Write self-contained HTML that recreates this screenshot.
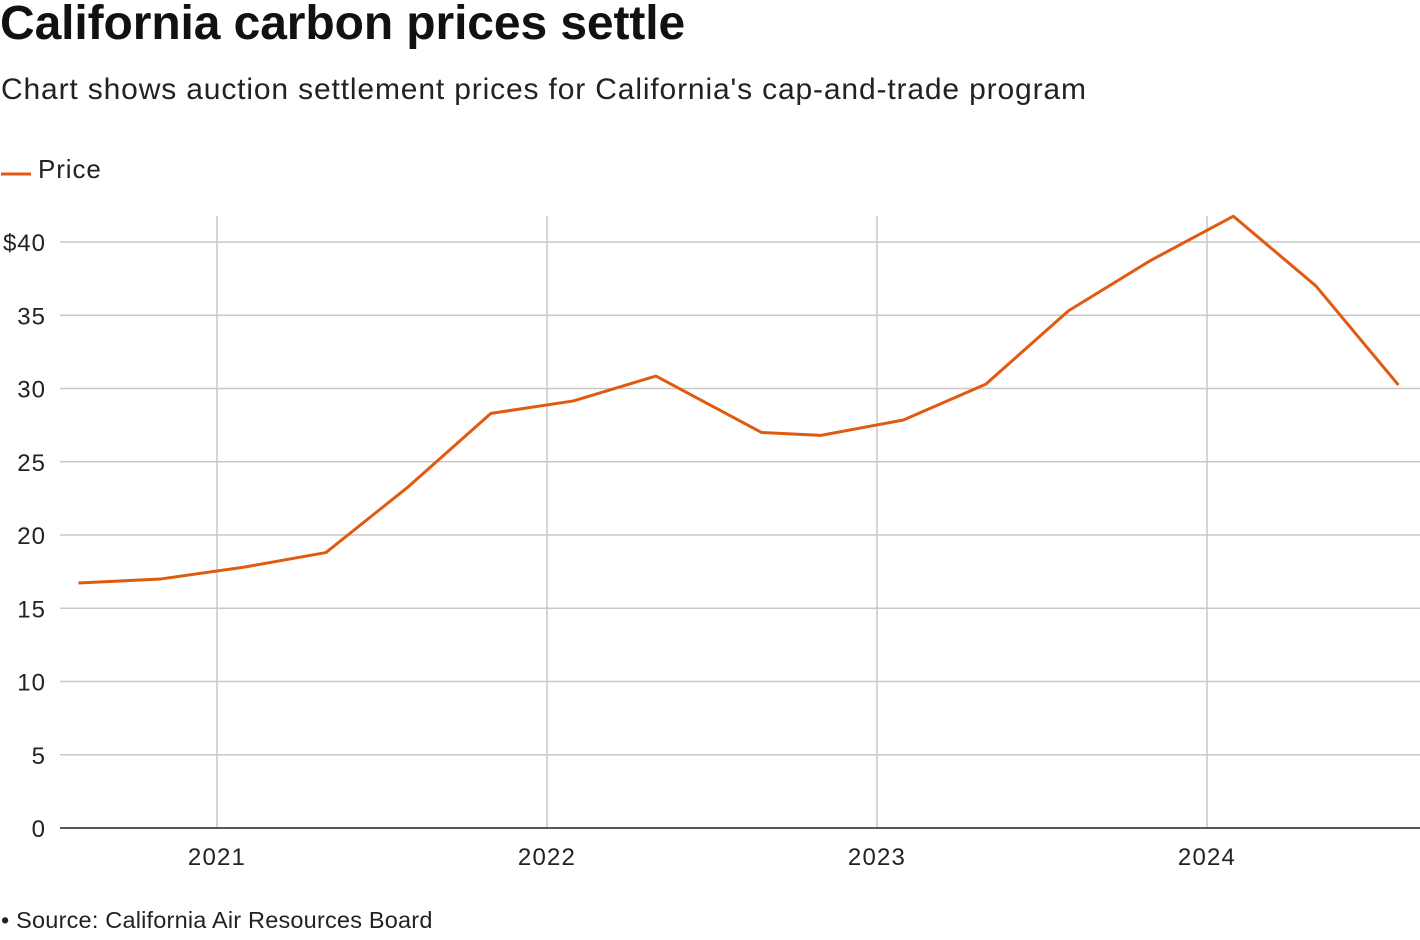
<!DOCTYPE html>
<html><head><meta charset="utf-8"><style>
body{margin:0;width:1420px;height:940px;background:#fff;font-family:"Liberation Sans",Arial,sans-serif;color:#111;overflow:hidden;position:relative}
#title{position:absolute;left:0;top:-4px;font-size:48px;font-weight:bold;letter-spacing:-0.1px;margin:0}
#sub{position:absolute;left:1px;top:73px;font-size:30px;letter-spacing:0.85px;color:#222}
#src{position:absolute;left:1px;top:907px;font-size:23.5px;letter-spacing:0.2px;color:#222}
svg{position:absolute;left:0;top:0}
</style></head><body>
<h1 id="title">California carbon prices settle</h1>
<div id="sub">Chart shows auction settlement prices for California's cap-and-trade program</div>
<svg id="chart" width="1420" height="940">
<g><line x1="1" y1="174" x2="31" y2="174" stroke="#e05a10" stroke-width="3"/><text x="38" y="178" font-size="26" letter-spacing="0.9" fill="#222">Price</text></g>
</svg>
<div id="src">• Source: California Air Resources Board</div>
<script>
const dates=[2020.58,2020.83,2021.08,2021.33,2021.58,2021.83,2022.08,2022.33,2022.65,2022.83,2023.08,2023.33,2023.58,2023.83,2024.08,2024.33,2024.58];
const prices=[16.72,17.0,17.8,18.8,23.3,28.3,29.15,30.85,27.0,26.8,27.85,30.3,35.3,38.75,41.76,37.0,30.24];
const yTicks=[0,5,10,15,20,25,30,35,40];
const yLabels=["0","5","10","15","20","25","30","35","$40"];
const xTicks=[2021,2022,2023,2024];
const xLabels=["2021","2022","2023","2024"];
const NS="http://www.w3.org/2000/svg";
const svg=document.getElementById('chart');
const x=t=>217+(t-2021)*330;
const y=v=>828-v*14.65;
function mk(tag,attrs){const e=document.createElementNS(NS,tag);for(const k in attrs)e.setAttribute(k,attrs[k]);svg.appendChild(e);return e;}
yTicks.forEach((v,i)=>{
 if(v>0){const l=mk('line',{x1:60,x2:1420,y1:y(v),y2:y(v),stroke:'#c8c8c8','stroke-width':1.5});
 
 }
 const t=mk('text',{x:46,y:y(v)+9,'font-size':24,'letter-spacing':1,'text-anchor':'end',fill:'#222'});t.textContent=yLabels[i];
 
 
});
xTicks.forEach((v,i)=>{
 const l=mk('line',{x1:x(v),x2:x(v),y1:216,y2:828,stroke:'#c8c8c8','stroke-width':1.5});
 
 
 const t=mk('text',{x:x(v),y:865,'font-size':24,'letter-spacing':1.2,'text-anchor':'middle',fill:'#222'});t.textContent=xLabels[i];
 
 
});
const ax=mk('line',{x1:60,x2:1420,y1:828,y2:828,stroke:'#222','stroke-width':1.5});


const p=mk('polyline',{points:dates.map((d,i)=>x(d)+','+y(prices[i])).join(' '),fill:'none',stroke:'#e05a10','stroke-width':3,'stroke-linejoin':'round'});


</script>
</body></html>
